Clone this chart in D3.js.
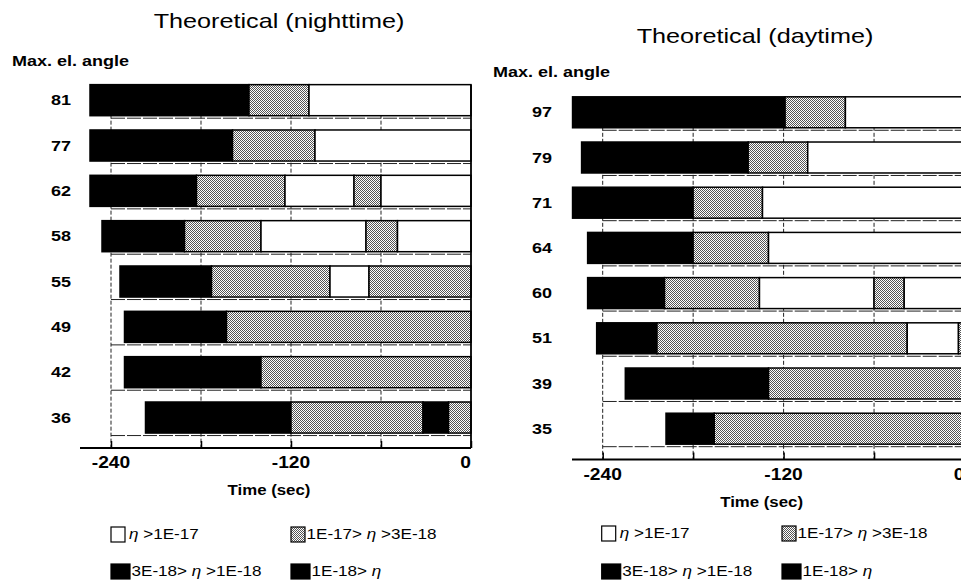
<!DOCTYPE html>
<html>
<head>
<meta charset="utf-8">
<script src="https://cdn.jsdelivr.net/npm/d3@7"></script>
<style>
  html, body { margin: 0; padding: 0; background: #fff; }
  svg { display: block; }
  text { font-family: "Liberation Sans", Arial, Helvetica, sans-serif; fill: #000; }
</style>
</head>
<body>
<svg id="chart" width="961" height="581"></svg>
<script>
// Nighttime passes: max elevation angle, pass start (s) and the times where the level changes
const nightAngles = [81, 77, 62, 58, 55, 49, 42, 36];
const nightStart = [-254, -254, -254, -246, -234, -231, -231, -217];
const nightBreaks = [
  [-148, -108],
  [-159, -104],
  [-183, -124, -78, -60],
  [-191, -140, -70, -49],
  [-173, -94, -68],
  [-163],
  [-140],
  [-120, -32, -15]
];
const nightLevels = [
  [2, 1, 0],
  [2, 1, 0],
  [2, 1, 0, 1, 0],
  [2, 1, 0, 1, 0],
  [2, 1, 0, 1],
  [2, 1],
  [2, 1],
  [2, 1, 3, 1]
];

// Daytime passes
const dayAngles = [97, 79, 71, 64, 60, 51, 39, 35];
const dayStart = [-260, -254, -260, -250, -250, -244, -225, -198];
const dayBreaks = [
  [-119, -79],
  [-143.5, -104],
  [-180, -134],
  [-180, -130],
  [-199, -136, -60, -40],
  [-204, -38, -4],
  [-130],
  [-166]
];
const dayLevels = [
  [2, 1, 0],
  [2, 1, 0],
  [2, 1, 0],
  [2, 1, 0],
  [2, 1, 0, 1, 0],
  [2, 1, 0, 1],
  [2, 1],
  [2, 1]
];

// Level classes (legend order) and time axis ticks
const levelLabels = ["η >1E-17", "1E-17> η >3E-18", "3E-18> η >1E-18", "1E-18> η"];
const gridTicks = [-240, -180, -120, -60, 0];
const labelTicks = [-240, -120, 0];
const timeDomain = [-240, 0];

const svg = d3.select("#chart");
const FONT_WIDEN = 1.2;

// Halftone fill for the middle level
const defs = svg.append("defs");
const pat = defs.append("pattern")
  .attr("id", "stipple")
  .attr("patternUnits", "userSpaceOnUse")
  .attr("width", 2).attr("height", 2);
pat.append("rect").attr("width", 2).attr("height", 2).attr("fill", "#fff");
pat.append("rect").attr("x", 0).attr("y", 0).attr("width", 1).attr("height", 1).attr("fill", "#555");
pat.append("rect").attr("x", 1).attr("y", 1).attr("width", 1).attr("height", 1).attr("fill", "#555");

const levelFill = ["#fff", "url(#stipple)", "#000", "#000"];

function widen(sel, k) {
  sel.each(function () {
    const L = this.getComputedTextLength();
    this.setAttribute("textLength", L * (k || FONT_WIDEN));
    this.setAttribute("lengthAdjust", "spacingAndGlyphs");
  });
  return sel;
}

function richLabel(textSel, label) {
  const parts = label.split("η");
  parts.forEach((p, i) => {
    if (p) textSel.append("tspan").text(p);
    if (i < parts.length - 1) textSel.append("tspan").attr("font-style", "italic").text("η");
  });
}

function drawPanel(cfg) {
  const g = svg.append("g");
  const x = d3.scaleLinear().domain(timeDomain).range([cfg.x0, cfg.x1]);
  const y = d3.scaleBand()
    .domain(cfg.angles.map(String))
    .range([cfg.top, cfg.bottom])
    .paddingInner(0.315).paddingOuter(0.1575);

  const gridTop = y(String(cfg.angles[0]));

  // Title
  widen(g.append("text")
    .attr("x", cfg.titleX).attr("y", cfg.titleY)
    .attr("text-anchor", "middle")
    .attr("font-size", 21)
    .text(cfg.title));

  // Row header
  widen(g.append("text")
    .attr("x", cfg.headX).attr("y", cfg.headY)
    .attr("font-size", 15).attr("font-weight", "bold")
    .text("Max. el. angle"));

  // Vertical grid lines
  g.append("g").selectAll("line")
    .data(gridTicks.filter(d => d !== 0))
    .join("line")
    .attr("x1", d => x(d)).attr("x2", d => x(d))
    .attr("y1", gridTop).attr("y2", cfg.axisY)
    .attr("stroke", "#222").attr("stroke-width", 1)
    .attr("stroke-dasharray", "4,2");

  // Row separators just under each bar
  g.append("g").selectAll("line")
    .data(cfg.angles)
    .join("line")
    .attr("x1", x(-240)).attr("x2", x(0))
    .attr("y1", d => y(String(d)) + y.bandwidth() + 2.5)
    .attr("y2", d => y(String(d)) + y.bandwidth() + 2.5)
    .attr("stroke", "#222").attr("stroke-width", 1)
    .attr("stroke-dasharray", "14,2");

  // Bars: one rect per segment
  const segs = [];
  cfg.angles.forEach((a, i) => {
    const edges = [cfg.start[i], ...cfg.breaks[i], 0];
    cfg.levels[i].forEach((lv, j) => {
      segs.push({ angle: a, t0: edges[j], t1: edges[j + 1], level: lv });
    });
  });
  g.append("g").selectAll("rect")
    .data(segs)
    .join("rect")
    .attr("x", d => x(d.t0))
    .attr("width", d => x(d.t1) - x(d.t0))
    .attr("y", d => y(String(d.angle)))
    .attr("height", y.bandwidth())
    .attr("fill", d => levelFill[d.level])
    .attr("stroke", "#000").attr("stroke-width", 1.5);

  // Right frame at t = 0
  g.append("line")
    .attr("x1", x(0)).attr("x2", x(0))
    .attr("y1", gridTop).attr("y2", cfg.axisY)
    .attr("stroke", "#000").attr("stroke-width", 1.8);

  // Row labels
  widen(g.append("g").selectAll("text")
    .data(cfg.angles)
    .join("text")
    .attr("x", cfg.labelX)
    .attr("y", d => y(String(d)) + y.bandwidth() / 2 + 5)
    .attr("text-anchor", "end")
    .attr("font-size", 15).attr("font-weight", "bold")
    .text(d => d));

  // Time axis
  const axis = d3.axisBottom(x)
    .tickValues(gridTicks)
    .tickSizeInner(-7).tickSizeOuter(0)
    .tickFormat("");
  const ax = g.append("g").attr("transform", `translate(0,${cfg.axisY})`).call(axis);
  ax.select(".domain").remove();
  ax.selectAll(".tick line").attr("stroke", "#000").attr("stroke-width", 1.5);
  g.append("line")
    .attr("x1", cfg.axisStart).attr("x2", x(0))
    .attr("y1", cfg.axisY).attr("y2", cfg.axisY)
    .attr("stroke", "#000").attr("stroke-width", 2);

  widen(g.append("g").selectAll("text")
    .data(labelTicks)
    .join("text")
    .attr("x", d => x(d))
    .attr("y", cfg.axisY + 20)
    .attr("text-anchor", d => d === 0 ? "end" : "middle")
    .attr("font-size", 16).attr("font-weight", "bold")
    .text(d => d));

  widen(g.append("text")
    .attr("x", x(-120) - 22).attr("y", cfg.axisY + 47)
    .attr("text-anchor", "middle")
    .attr("font-size", 14).attr("font-weight", "bold")
    .text("Time (sec)"));

  // Legend: two columns, two rows
  const lg = g.append("g");
  levelLabels.forEach((lab, i) => {
    const col = i % 2, row = Math.floor(i / 2);
    const bx = cfg.legX[col];
    const by = cfg.legY[row];
    const bw = i >= 2 ? 19 : 14;
    lg.append("rect")
      .attr("x", bx).attr("y", by)
      .attr("width", bw).attr("height", 15)
      .attr("fill", levelFill[i])
      .attr("stroke", "#000").attr("stroke-width", 1.2);
    const t = lg.append("text")
      .attr("x", bx + bw + (i === 0 ? 4 : 1.5))
      .attr("y", by + 12)
      .attr("font-size", 14);
    richLabel(t, lab);
    widen(t, 1.22);
  });
}

drawPanel({
  title: "Theoretical (nighttime)", titleX: 279, titleY: 28,
  headX: 12, headY: 66,
  angles: nightAngles, start: nightStart, breaks: nightBreaks, levels: nightLevels,
  x0: 111, x1: 471, top: 77.5, bottom: 440.2,
  axisY: 448, axisStart: 80, labelX: 71,
  legX: [111, 291], legY: [527, 564]
});

drawPanel({
  title: "Theoretical (daytime)", titleX: 755, titleY: 43,
  headX: 493, headY: 77,
  angles: dayAngles, start: dayStart, breaks: dayBreaks, levels: dayLevels,
  x0: 602.7, x1: 964.5, top: 89.7, bottom: 451.3,
  axisY: 459.5, axisStart: 572, labelX: 552,
  legX: [601.7, 782], legY: [526, 564]
});
</script>
</body>
</html>
